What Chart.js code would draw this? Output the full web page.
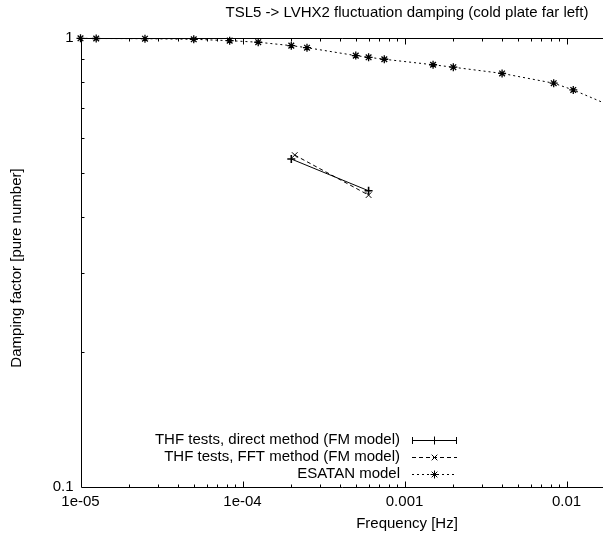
<!DOCTYPE html>
<html>
<head>
<meta charset="utf-8">
<script src="https://cdn.jsdelivr.net/npm/chart.js@4/dist/chart.umd.min.js"></script>
<style>
  html, body { margin: 0; padding: 0; background: #fff; }
  #wrap { width: 603px; height: 538px; }
  canvas { display: block; }
</style>
</head>
<body>
<div id="wrap"><canvas id="c" width="603" height="538"></canvas></div>
<script>
// Text
const titleText = 'TSL5 -> LVHX2 fluctuation damping (cold plate far left)';
const xTitle = 'Frequency [Hz]';
const yTitle = 'Damping factor [pure number]';
const seriesNames = [
  'THF tests, direct method (FM model)',
  'THF tests, FFT method (FM model)',
  'ESATAN model'
];

// Axis ticks
const xTickValues = [1e-5, 1e-4, 1e-3, 1e-2];
const xTickLabels = ['1e-05', '1e-04', '0.001', '0.01'];
const yTickValues = [0.1, 1];
const yTickLabels = ['0.1', '1'];

// Measurements
const directFreq = [2e-4, 6e-4];
const directDamping = [0.538, 0.457];
const fftFreq = [2.1e-4, 6e-4];
const fftDamping = [0.549, 0.447];

// Thermal model prediction
const esatanFreq = [1e-5, 1.25e-5, 2.5e-5, 5e-5, 8.33e-5, 1.25e-4, 2e-4, 2.5e-4,
                    5e-4, 6e-4, 7.5e-4, 1.5e-3, 2e-3, 4e-3, 8.33e-3, 1.1e-2, 2e-2];
const esatanDamping = [1.0, 0.999, 0.998, 0.995, 0.988, 0.980, 0.963, 0.953,
                       0.915, 0.907, 0.898, 0.873, 0.862, 0.835, 0.794, 0.767, 0.700];

const FONT = '"Liberation Sans", Arial, Helvetica, sans-serif';
const FS = 15;

function pts(xs, ys) { return xs.map((x, i) => ({ x: x, y: ys[i] })); }

// Borders, inward ticks (mirrored on top), titles and the key
const frame = {
  id: 'frame',
  afterDraw(chart) {
    const ctx = chart.ctx;
    const a = chart.chartArea;
    const xs = chart.scales.x, ys = chart.scales.y;
    const L = Math.round(a.left) + 0.5, T = Math.round(a.top) + 0.5, B = Math.round(a.bottom) + 0.5;
    ctx.save();
    ctx.strokeStyle = '#000';
    ctx.lineWidth = 1;
    ctx.beginPath();
    ctx.moveTo(chart.width, T); ctx.lineTo(L, T); ctx.lineTo(L, B); ctx.lineTo(chart.width, B);
    ctx.stroke();

    // x ticks
    ctx.beginPath();
    for (let d = -5; d <= -2; d++) {
      for (let m = 1; m <= 9; m++) {
        const v = m * Math.pow(10, d);
        if (v > xs.max) break;
        const px = Math.round(xs.getPixelForValue(v)) + 0.5;
        if (px <= L) continue;
        const len = m === 1 ? 6 : 3;
        ctx.moveTo(px, B); ctx.lineTo(px, B - len);
        ctx.moveTo(px, T); ctx.lineTo(px, T + len);
      }
    }
    // y ticks
    for (let m = 2; m <= 9; m++) {
      const py = Math.round(ys.getPixelForValue(m / 10)) + 0.5;
      ctx.moveTo(L, py); ctx.lineTo(L + 3, py);
    }
    ctx.stroke();

    // Titles, centred on the full frame width
    const mid = 407;
    ctx.fillStyle = '#000';
    ctx.font = FS + 'px ' + FONT;
    ctx.textAlign = 'center';
    ctx.textBaseline = 'middle';
    ctx.fillText(titleText, mid, 13);
    ctx.fillText(xTitle, mid, 524);
    ctx.save();
    ctx.translate(17, 268);
    ctx.rotate(-Math.PI / 2);
    ctx.fillText(yTitle, 0, 0);
    ctx.restore();

    // Key
    const textRight = 400, s0 = 412, s1 = 457, sm = (s0 + s1) / 2;
    const rows = [440, 457, 474];
    const dashes = [[], [4, 3], [2, 3]];
    const styles = ['cross', 'crossRot', 'star'];
    rows.forEach((ry, i) => {
      ctx.textAlign = 'right';
      ctx.fillText(seriesNames[i], textRight, ry);
      const y = Math.round(ry) + 0.5;
      ctx.setLineDash(dashes[i]);
      ctx.beginPath(); ctx.moveTo(s0, y); ctx.lineTo(s1, y); ctx.stroke();
      ctx.setLineDash([]);
      if (i === 0) {
        ctx.beginPath();
        ctx.moveTo(s0 + 0.5, y - 3.5); ctx.lineTo(s0 + 0.5, y + 3.5);
        ctx.moveTo(s1 - 0.5, y - 3.5); ctx.lineTo(s1 - 0.5, y + 3.5);
        ctx.stroke();
      }
      Chart.helpers.drawPoint(ctx, { pointStyle: styles[i], radius: 4, borderWidth: 1 }, sm, y);
    });
    ctx.restore();
  }
};

new Chart(document.getElementById('c'), {
  type: 'scatter',
  data: {
    datasets: [
      {
        label: seriesNames[0],
        data: pts(directFreq, directDamping),
        showLine: true, clip: false,
        borderColor: '#000', backgroundColor: '#000',
        borderWidth: 1,
        pointStyle: 'cross', pointRadius: 4, pointBorderWidth: 1.6
      },
      {
        label: seriesNames[1],
        data: pts(fftFreq, fftDamping),
        showLine: true, clip: false,
        borderColor: '#000', backgroundColor: '#000',
        borderWidth: 1, borderDash: [4, 3],
        pointStyle: 'crossRot', pointRadius: 4, pointBorderWidth: 1
      },
      {
        label: seriesNames[2],
        data: pts(esatanFreq, esatanDamping),
        showLine: true, clip: false,
        borderColor: '#000', backgroundColor: '#000',
        borderWidth: 1, borderDash: [2, 3],
        pointStyle: 'star', pointRadius: 4, pointBorderWidth: 1.3
      }
    ]
  },
  options: {
    responsive: false,
    animation: false,
    devicePixelRatio: 1,
    layout: { padding: { top: 38.3, right: 0, left: 0, bottom: 0 } },
    plugins: { legend: { display: false }, tooltip: { enabled: false }, title: { display: false } },
    elements: { line: { tension: 0 } },
    scales: {
      x: {
        type: 'logarithmic',
        min: 1e-5, max: 0.0155,
        grid: { display: false, drawTicks: false },
        border: { display: false },
        ticks: {
          autoSkip: false, maxRotation: 0, padding: 6,
          color: '#000', font: { family: FONT, size: FS },
          callback: (v) => { const i = xTickValues.findIndex(t => Math.abs(t - v) / t < 1e-6); return i >= 0 ? xTickLabels[i] : ''; }
        },
        afterBuildTicks: (s) => { s.ticks = xTickValues.map(v => ({ value: v })); },
        afterFit: (s) => { s.height = 51.3; }
      },
      y: {
        type: 'logarithmic',
        min: 0.1, max: 1,
        grid: { display: false, drawTicks: false },
        border: { display: false },
        ticks: {
          autoSkip: false, padding: 7,
          color: '#000', font: { family: FONT, size: FS },
          callback: (v) => { const i = yTickValues.findIndex(t => Math.abs(t - v) / t < 1e-6); return i >= 0 ? yTickLabels[i] : ''; }
        },
        afterBuildTicks: (s) => { s.ticks = yTickValues.map(v => ({ value: v })); },
        afterFit: (s) => { s.width = 80.5; }
      }
    }
  },
  plugins: [frame]
});
</script>
</body>
</html>
